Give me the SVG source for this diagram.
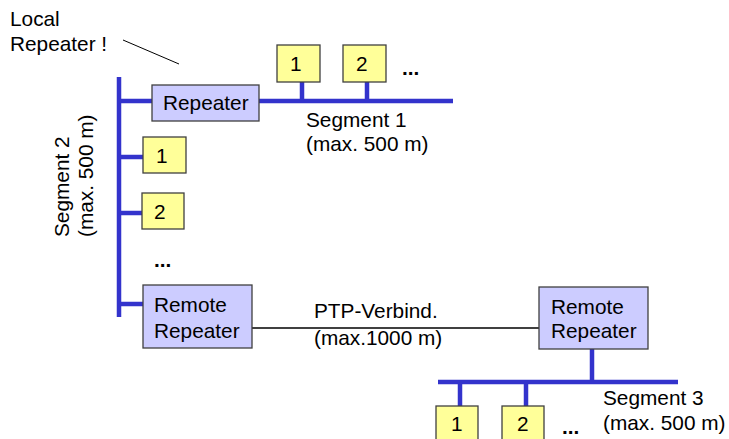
<svg xmlns="http://www.w3.org/2000/svg" width="729" height="439" viewBox="0 0 729 439">
<style>
text{font-family:"Liberation Sans",Arial,sans-serif;font-size:20.8px;fill:#000}
.bus{stroke:#3333cc;stroke-width:4.5;fill:none;stroke-linecap:butt}
.rep{fill:#ccccff;stroke:#404040;stroke-width:1.3}
.st{fill:#ffff99;stroke:#404040;stroke-width:1.3}
.thin{stroke:#000;fill:none}
</style>
<rect width="729" height="439" fill="#fff"/>
<g id="connectors">
<line class="bus" x1="119" y1="77" x2="119" y2="317"/>
<line class="bus" x1="119" y1="101" x2="152" y2="101"/>
<line class="bus" x1="259" y1="101" x2="453" y2="101"/>
<line class="bus" x1="302" y1="82" x2="302" y2="101"/>
<line class="bus" x1="367" y1="82" x2="367" y2="101"/>
<line class="bus" x1="119" y1="157" x2="143" y2="157"/>
<line class="bus" x1="119" y1="213" x2="142" y2="213"/>
<line class="bus" x1="119" y1="304" x2="143" y2="304"/>
<line class="thin" x1="252" y1="328" x2="539" y2="328" stroke-width="1.6"/>
<line class="bus" x1="592" y1="349" x2="592" y2="382"/>
<line class="bus" x1="438" y1="382" x2="678" y2="382"/>
<line class="bus" x1="460" y1="382" x2="460" y2="406"/>
<line class="bus" x1="526" y1="382" x2="526" y2="406"/>
<line class="thin" x1="123" y1="40" x2="179" y2="64" stroke-width="1"/>
</g>
<g id="local-label">
<text x="10" y="26">Local</text>
<text x="10" y="51">Repeater !</text>
</g>
<g id="repeater">
<rect class="rep" x="152" y="85" width="107" height="36"/>
<text x="163" y="110">Repeater</text>
</g>
<g id="s1-1"><rect class="st" x="277" y="45" width="43" height="37"/><text x="290" y="71">1</text></g>
<g id="s1-2"><rect class="st" x="343" y="45" width="43" height="37"/><text x="356" y="71">2</text></g>
<text x="402" y="75" font-weight="bold">...</text>
<g id="seg1-label">
<text x="306" y="127">Segment 1</text>
<text x="306" y="151">(max. 500 m)</text>
</g>
<g id="seg2-label">
<text transform="translate(69,237) rotate(-90)">Segment 2</text>
<text transform="translate(93,237) rotate(-90)">(max. 500 m)</text>
</g>
<g id="s2-1"><rect class="st" x="143" y="137" width="43" height="36"/><text x="156" y="163">1</text></g>
<g id="s2-2"><rect class="st" x="142" y="193" width="42" height="36"/><text x="154" y="219">2</text></g>
<text x="154" y="267" font-weight="bold">...</text>
<g id="remote-left">
<rect class="rep" x="143" y="285" width="109" height="63"/>
<text x="154" y="312">Remote</text>
<text x="154" y="338">Repeater</text>
</g>
<g id="ptp-label">
<text x="314" y="318">PTP-Verbind.</text>
<text x="314" y="345">(max.1000 m)</text>
</g>
<g id="remote-right">
<rect class="rep" x="539" y="287" width="109" height="62"/>
<text x="551" y="314">Remote</text>
<text x="551" y="338">Repeater</text>
</g>
<g id="s3-1"><rect class="st" x="436" y="406" width="42" height="40"/><text x="451" y="431">1</text></g>
<g id="s3-2"><rect class="st" x="502" y="406" width="42" height="40"/><text x="517" y="431">2</text></g>
<text x="562" y="434" font-weight="bold">...</text>
<g id="seg3-label">
<text x="603" y="405">Segment 3</text>
<text x="603" y="430">(max. 500 m)</text>
</g>
</svg>
